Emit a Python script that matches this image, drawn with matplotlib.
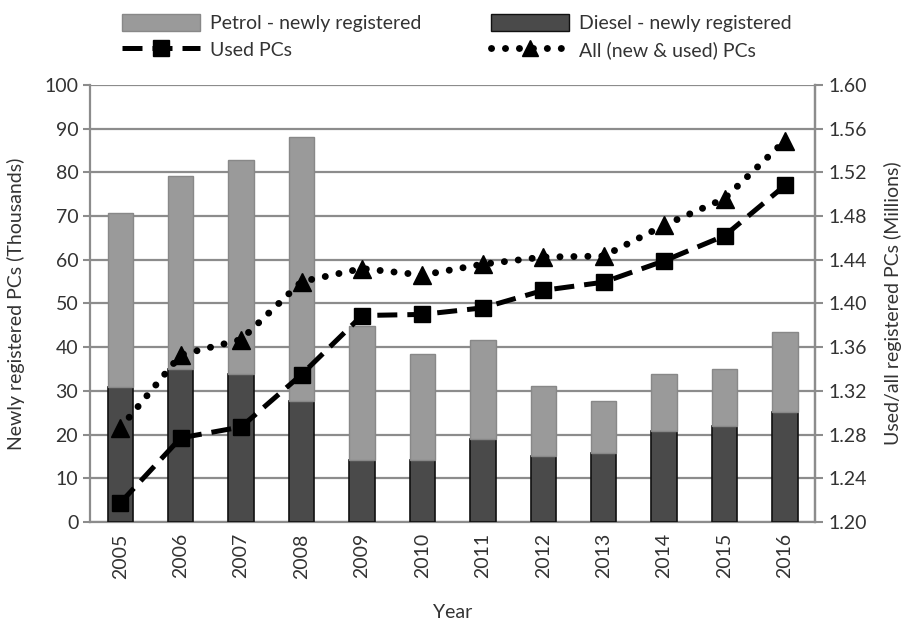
import matplotlib
matplotlib.use("Agg")
import matplotlib.pyplot as plt
from matplotlib.lines import Line2D
from matplotlib.patches import Patch
import numpy as np

years = ["2005", "2006", "2007", "2008", "2009", "2010", "2011", "2012", "2013", "2014", "2015", "2016"]
diesel_new = [30.8, 34.9, 33.9, 27.8, 14.3, 14.1, 19.1, 15.2, 15.7, 20.9, 21.9, 25.2]
total_new = [70.6, 79.2, 82.8, 88.2, 44.9, 38.5, 41.6, 31.2, 27.8, 33.8, 35.1, 43.4]
petrol_new = [round(t - d, 1) for t, d in zip(total_new, diesel_new)]
used_pcs = [1.2175, 1.277, 1.287, 1.335, 1.389, 1.390, 1.396, 1.412, 1.4195, 1.439, 1.462, 1.508]
all_pcs = [1.286, 1.353, 1.367, 1.420, 1.432, 1.426, 1.436, 1.4425, 1.4434, 1.4716, 1.496, 1.549]

plt.rcParams['font.family'] = ['Lato', 'DejaVu Sans']
FS = 14
GRID = '#8c8c8c'
TXT = '#333333'

fig = plt.figure(figsize=(9.19, 6.2), dpi=100)
ax = fig.add_axes([0.098, 0.158, 0.789, 0.705])
x = np.arange(len(years))
w = 0.42

ax.bar(x, diesel_new, w, color='#4a4a4a', edgecolor='#111111', linewidth=1.2, zorder=3)
ax.bar(x, petrol_new, w, bottom=diesel_new, color='#9a9a9a', edgecolor='#888888', linewidth=1.0, zorder=3)

ax.set_xlim(-0.5, len(years) - 0.5)
ax.set_ylim(0, 100)
ax.set_yticks(np.arange(0, 101, 10))
ax.yaxis.grid(True, color=GRID, linewidth=1.6, zorder=0)
ax.set_axisbelow(True)
ax.set_xticks(x)
ax.set_xticklabels(years, rotation=90, fontsize=FS)
ax.tick_params(axis='y', labelsize=FS, length=5, color=GRID, width=1.5)
ax.tick_params(axis='x', length=0, pad=8)
for s in ['left', 'bottom', 'right']:
    ax.spines[s].set_color(GRID)
    ax.spines[s].set_linewidth(1.6)
ax.spines['top'].set_visible(False)
ax.set_ylabel("Newly registered PCs (Thousands)", fontsize=FS, color=TXT, labelpad=14)
ax.set_xlabel("Year", fontsize=FS, color=TXT, labelpad=18)

ax2 = ax.twinx()
ax2.set_ylim(1.20, 1.60)
ax2.set_yticks(np.round(np.arange(1.20, 1.601, 0.04), 2))
ax2.set_yticklabels([f"{v:.2f}" for v in np.arange(1.20, 1.601, 0.04)])
ax2.tick_params(axis='y', labelsize=FS, length=6, color=GRID, width=1.5)
for s in ['left', 'bottom', 'right', 'top']:
    ax2.spines[s].set_visible(False)
ax2.spines['right'].set_visible(True)
ax2.spines['right'].set_color(GRID)
ax2.spines['right'].set_linewidth(1.6)
ax2.set_ylabel("Used/all registered PCs (Millions)", fontsize=FS, color=TXT, labelpad=12)

DASH = (0, (4.0, 2.0))
DOT = (0, (0.01, 2.0))
ax2.plot(x, used_pcs, color='black', linestyle=DASH, linewidth=3.6,
         marker='s', markersize=12, zorder=5)
ax2.plot(x, all_pcs, color='black', linestyle=DOT, linewidth=5.0,
         dash_capstyle='round', marker='^', markersize=13, zorder=5)

for a in (ax, ax2):
    for lab in a.get_yticklabels() + a.get_xticklabels():
        lab.set_color(TXT)

handles = [
    Patch(facecolor='#9a9a9a', edgecolor='#888888', label='Petrol - newly registered'),
    Line2D([0], [0], color='black', linestyle=DASH, linewidth=3.6, marker='s', markersize=11, label='Used PCs'),
    Patch(facecolor='#4a4a4a', edgecolor='#111111', label='Diesel - newly registered'),
    Line2D([0], [0], color='black', linestyle=DOT, linewidth=5.0, dash_capstyle='round',
           marker='^', markersize=12, label='All (new & used) PCs'),
]
leg = fig.legend(handles=handles, ncol=2, loc='upper center', bbox_to_anchor=(0.497, 1.005),
                 frameon=False, fontsize=FS, handlelength=4.0, handleheight=0.9,
                 columnspacing=3.6, handletextpad=0.5, labelspacing=0.45)
for t in leg.get_texts():
    t.set_color(TXT)

fig.savefig("out.png", dpi=100)
